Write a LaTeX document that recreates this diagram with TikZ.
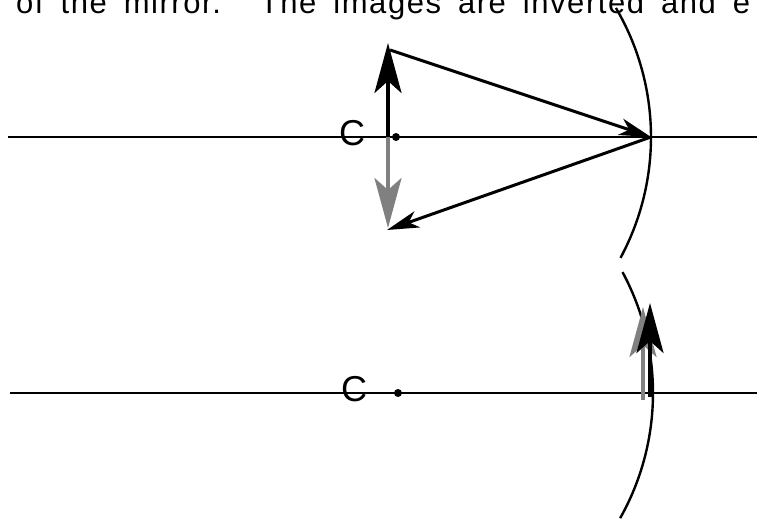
\documentclass[tikz,border=0pt]{standalone}
\usepackage{fontspec}
\setmainfont{Liberation Sans}
\newfontfamily\captionfont[LetterSpace=5]{Liberation Sans}
\usetikzlibrary{arrows.meta}
\begin{document}
\begin{tikzpicture}[x=1pt, y=-1pt,
    axis/.style={line width=2pt},
    mirror/.style={line width=2.4pt},
    ray/.style={line width=3pt, -{Stealth[length=32pt, width=17pt, inset=9pt]}},
    objarrow/.style={line width=4pt, -{Stealth[length=50pt, width=27pt, inset=12pt]}},
    label/.style={font=\fontsize{36}{40}\selectfont}]
            \useasboundingbox (0,0) rectangle (757,521);

            % Text cut off at the top
            \node[anchor=base west, inner sep=0pt, font=\captionfont\fontsize{31}{36}\selectfont] (caption) at (16,13.5)
                {\spaceskip=17pt\xspaceskip=39pt of the mirror. The images are inverted and e};

            % Upper mirror: object at C
            \coordinate (C1) at (396,137);
            \coordinate (V1) at (651,137);
            \coordinate (objbase1) at (388,137);
            \coordinate (objtop1) at (388,43);
            \coordinate (imgtop1) at (388,228);
            \coordinate (raystart1) at (390,50);
            \coordinate (rayend1) at (387,230);
            \draw[axis] (8,137) -- (757,137);
            \draw[mirror] (C1) ++(-30.4:255) arc[start angle=-30.4, end angle=28.3, radius=255];
            \fill (C1) circle (4);
            \node[label] (clabel1) at (352,133) {C};
            \draw[objarrow, gray] (objbase1) -- (imgtop1);
            \draw[objarrow] (objbase1) -- (objtop1);
            \draw[ray] (raystart1) -- (V1);
            \draw[ray] (V1) -- (rayend1);

            % Lower mirror: object at the vertex
            \coordinate (C2) at (398,393);
            \coordinate (V2) at (653,393);
            \coordinate (imgbase2) at (643,400);
            \coordinate (imgtop2) at (643,307);
            \coordinate (objbase2) at (650,397);
            \coordinate (objtop2) at (650,303);
            \draw[axis] (10,393) -- (757,393);
            \draw[mirror] (C2) ++(-28.3:255) arc[start angle=-28.3, end angle=29.4, radius=255];
            \fill (C2) circle (4);
            \node[label] (clabel2) at (354,389) {C};
            \draw[objarrow, gray] (imgbase2) -- (imgtop2);
            \draw[objarrow] (objbase2) -- (objtop2);
        \end{tikzpicture}
\end{document}
